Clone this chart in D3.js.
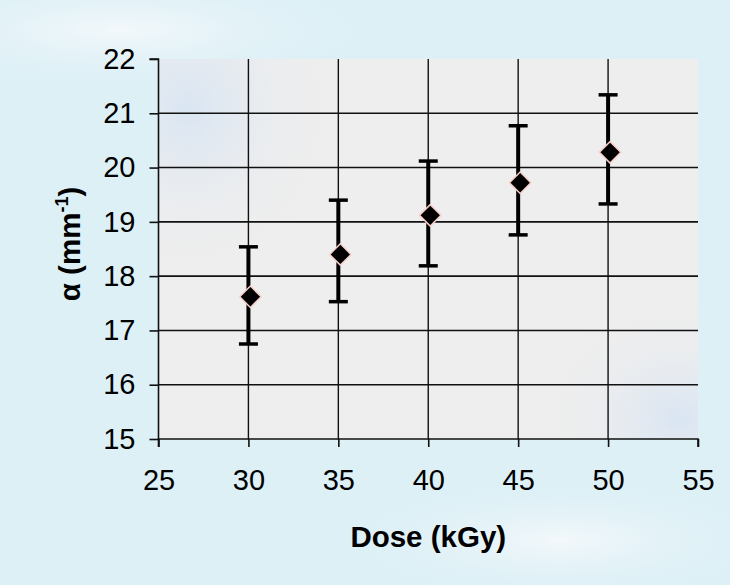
<!DOCTYPE html>
<html>
<head>
<meta charset="utf-8">
<script src="https://cdn.jsdelivr.net/npm/d3@7"></script>
<style>
  body { margin: 0; background: #e1f1f6; }
  svg { display: block; }
</style>
</head>
<body>
<div id="chart"></div>
<script>
// data
var doses = [30, 35, 40, 45, 50];
var alphas = [17.62, 18.40, 19.12, 19.72, 20.28];
var errLow = [16.75, 17.53, 18.19, 18.76, 19.33];
var errHigh = [18.54, 19.40, 20.12, 20.77, 21.34];
var xTicks = [25, 30, 35, 40, 45, 50, 55];
var yTicks = [15, 16, 17, 18, 19, 20, 21, 22];

var width = 730,
    height = 585;
var margin = { top: 59, right: 32, bottom: 146, left: 158.5 };
var w = width - margin.left - margin.right,
    h = height - margin.top - margin.bottom;

var svg = d3.select('#chart')
  .append('svg')
  .attr('width', width)
  .attr('height', height);

var defs = svg.append('defs');
var bgGrad = defs.append('radialGradient').attr('id', 'bgpatch');
bgGrad.append('stop').attr('offset', '0%').attr('stop-color', '#f3f8fb');
bgGrad.append('stop').attr('offset', '100%').attr('stop-color', '#e1f1f6').attr('stop-opacity', 0);
var blueGrad = defs.append('radialGradient').attr('id', 'bluepatch');
blueGrad.append('stop').attr('offset', '0%').attr('stop-color', '#d9e5f3');
blueGrad.append('stop').attr('offset', '100%').attr('stop-color', '#eeeeee').attr('stop-opacity', 0);

// page background
svg.append('rect').attr('width', width).attr('height', height).attr('fill', '#dcf0f6');
svg.append('ellipse').attr('cx', 120).attr('cy', 30).attr('rx', 260).attr('ry', 60).attr('fill', 'url(#bgpatch)');
svg.append('ellipse').attr('cx', 560).attr('cy', 540).attr('rx', 220).attr('ry', 60).attr('fill', 'url(#bgpatch)');

var x = d3.scaleLinear().domain([25, 55]).range([0, w]);
var y = d3.scaleLinear().domain([15, 22]).range([h, 0]);

var g = svg.append('g')
  .attr('transform', 'translate(' + margin.left + ',' + margin.top + ')');

// plot area
g.append('rect').attr('width', w).attr('height', h).attr('fill', '#eeeeee');
var clip = defs.append('clipPath').attr('id', 'plotclip');
clip.append('rect').attr('width', w).attr('height', h);
var tint = g.append('g').attr('clip-path', 'url(#plotclip)');
tint.append('ellipse').attr('cx', 30).attr('cy', 50).attr('rx', 150).attr('ry', 170).attr('fill', 'url(#bluepatch)');
tint.append('ellipse').attr('cx', w - 20).attr('cy', h - 20).attr('rx', 140).attr('ry', 120).attr('fill', 'url(#bluepatch)');

// gridlines
g.selectAll('line.hgrid')
  .data(yTicks.filter(function (d) { return d > 15 && d < 22; }))
  .enter().append('line')
  .attr('class', 'hgrid')
  .attr('x1', 0).attr('x2', w)
  .attr('y1', function (d) { return y(d); })
  .attr('y2', function (d) { return y(d); })
  .style('stroke', '#111').style('stroke-width', 1.6);

g.selectAll('line.vgrid')
  .data(xTicks.filter(function (d) { return d > 25 && d < 55; }))
  .enter().append('line')
  .attr('class', 'vgrid')
  .attr('y1', 0).attr('y2', h)
  .attr('x1', function (d) { return x(d); })
  .attr('x2', function (d) { return x(d); })
  .style('stroke', '#111').style('stroke-width', 1.4);

// axes
var fmt = d3.format('d');
var xAxis = g.append('g')
  .attr('transform', 'translate(0,' + h + ')')
  .call(d3.axisBottom(x).tickValues(xTicks).tickFormat(fmt).tickSize(8).tickPadding(22));
var yAxis = g.append('g')
  .call(d3.axisLeft(y).tickValues(yTicks).tickFormat(fmt).tickSize(9).tickPadding(14));

[xAxis, yAxis].forEach(function (a) {
  a.select('.domain').attr('stroke', '#111').attr('stroke-width', 1.6);
  a.selectAll('.tick line').attr('stroke', '#111').attr('stroke-width', 1.6);
  a.selectAll('.tick text')
    .attr('fill', '#000')
    .style('font-family', 'Liberation Sans, Arial, sans-serif')
    .style('font-size', '29px');
});
xAxis.select('.domain').attr('d', 'M0,8V0H' + w + 'V8');
yAxis.select('.domain').attr('d', 'M-9,0H0V' + h);

// error bars
var bars = g.selectAll('g.err')
  .data(doses)
  .enter().append('g')
  .attr('class', 'err');
bars.append('line')
  .attr('x1', function (d) { return x(d); })
  .attr('x2', function (d) { return x(d); })
  .attr('y1', function (d, i) { return y(errLow[i]); })
  .attr('y2', function (d, i) { return y(errHigh[i]); })
  .style('stroke', '#000').style('stroke-width', 4);
bars.append('line')
  .attr('x1', function (d) { return x(d) - 9.5; })
  .attr('x2', function (d) { return x(d) + 9.5; })
  .attr('y1', function (d, i) { return y(errHigh[i]); })
  .attr('y2', function (d, i) { return y(errHigh[i]); })
  .style('stroke', '#000').style('stroke-width', 3.5);
bars.append('line')
  .attr('x1', function (d) { return x(d) - 9.5; })
  .attr('x2', function (d) { return x(d) + 9.5; })
  .attr('y1', function (d, i) { return y(errLow[i]); })
  .attr('y2', function (d, i) { return y(errLow[i]); })
  .style('stroke', '#000').style('stroke-width', 3.5);

// diamond markers
var square = d3.symbol().type(d3.symbolSquare).size(230);
g.selectAll('path.pt')
  .data(doses)
  .enter().append('path')
  .attr('class', 'pt')
  .attr('d', square)
  .attr('transform', function (d, i) {
    return 'translate(' + (x(d) + 2) + ',' + y(alphas[i]) + ') rotate(45)';
  })
  .style('fill', '#000')
  .style('stroke', '#f6d0cb')
  .style('stroke-width', 1.5);

// axis titles
svg.append('text')
  .attr('x', margin.left + x(40))
  .attr('y', 547)
  .attr('text-anchor', 'middle')
  .style('font-family', 'Liberation Sans, Arial, sans-serif')
  .style('font-weight', 'bold')
  .style('font-size', '29.5px')
  .text('Dose (kGy)');

var yt = svg.append('text')
  .attr('transform', 'translate(80,244) rotate(-90)')
  .attr('text-anchor', 'middle')
  .style('font-family', 'Liberation Sans, Arial, sans-serif')
  .style('font-weight', 'bold')
  .style('font-size', '29.5px');
yt.append('tspan').text('\u03b1 (mm');
yt.append('tspan').attr('dy', -12).style('font-size', '18px').text('-1');
yt.append('tspan').attr('dy', 12).text(')');
</script>
</body>
</html>
